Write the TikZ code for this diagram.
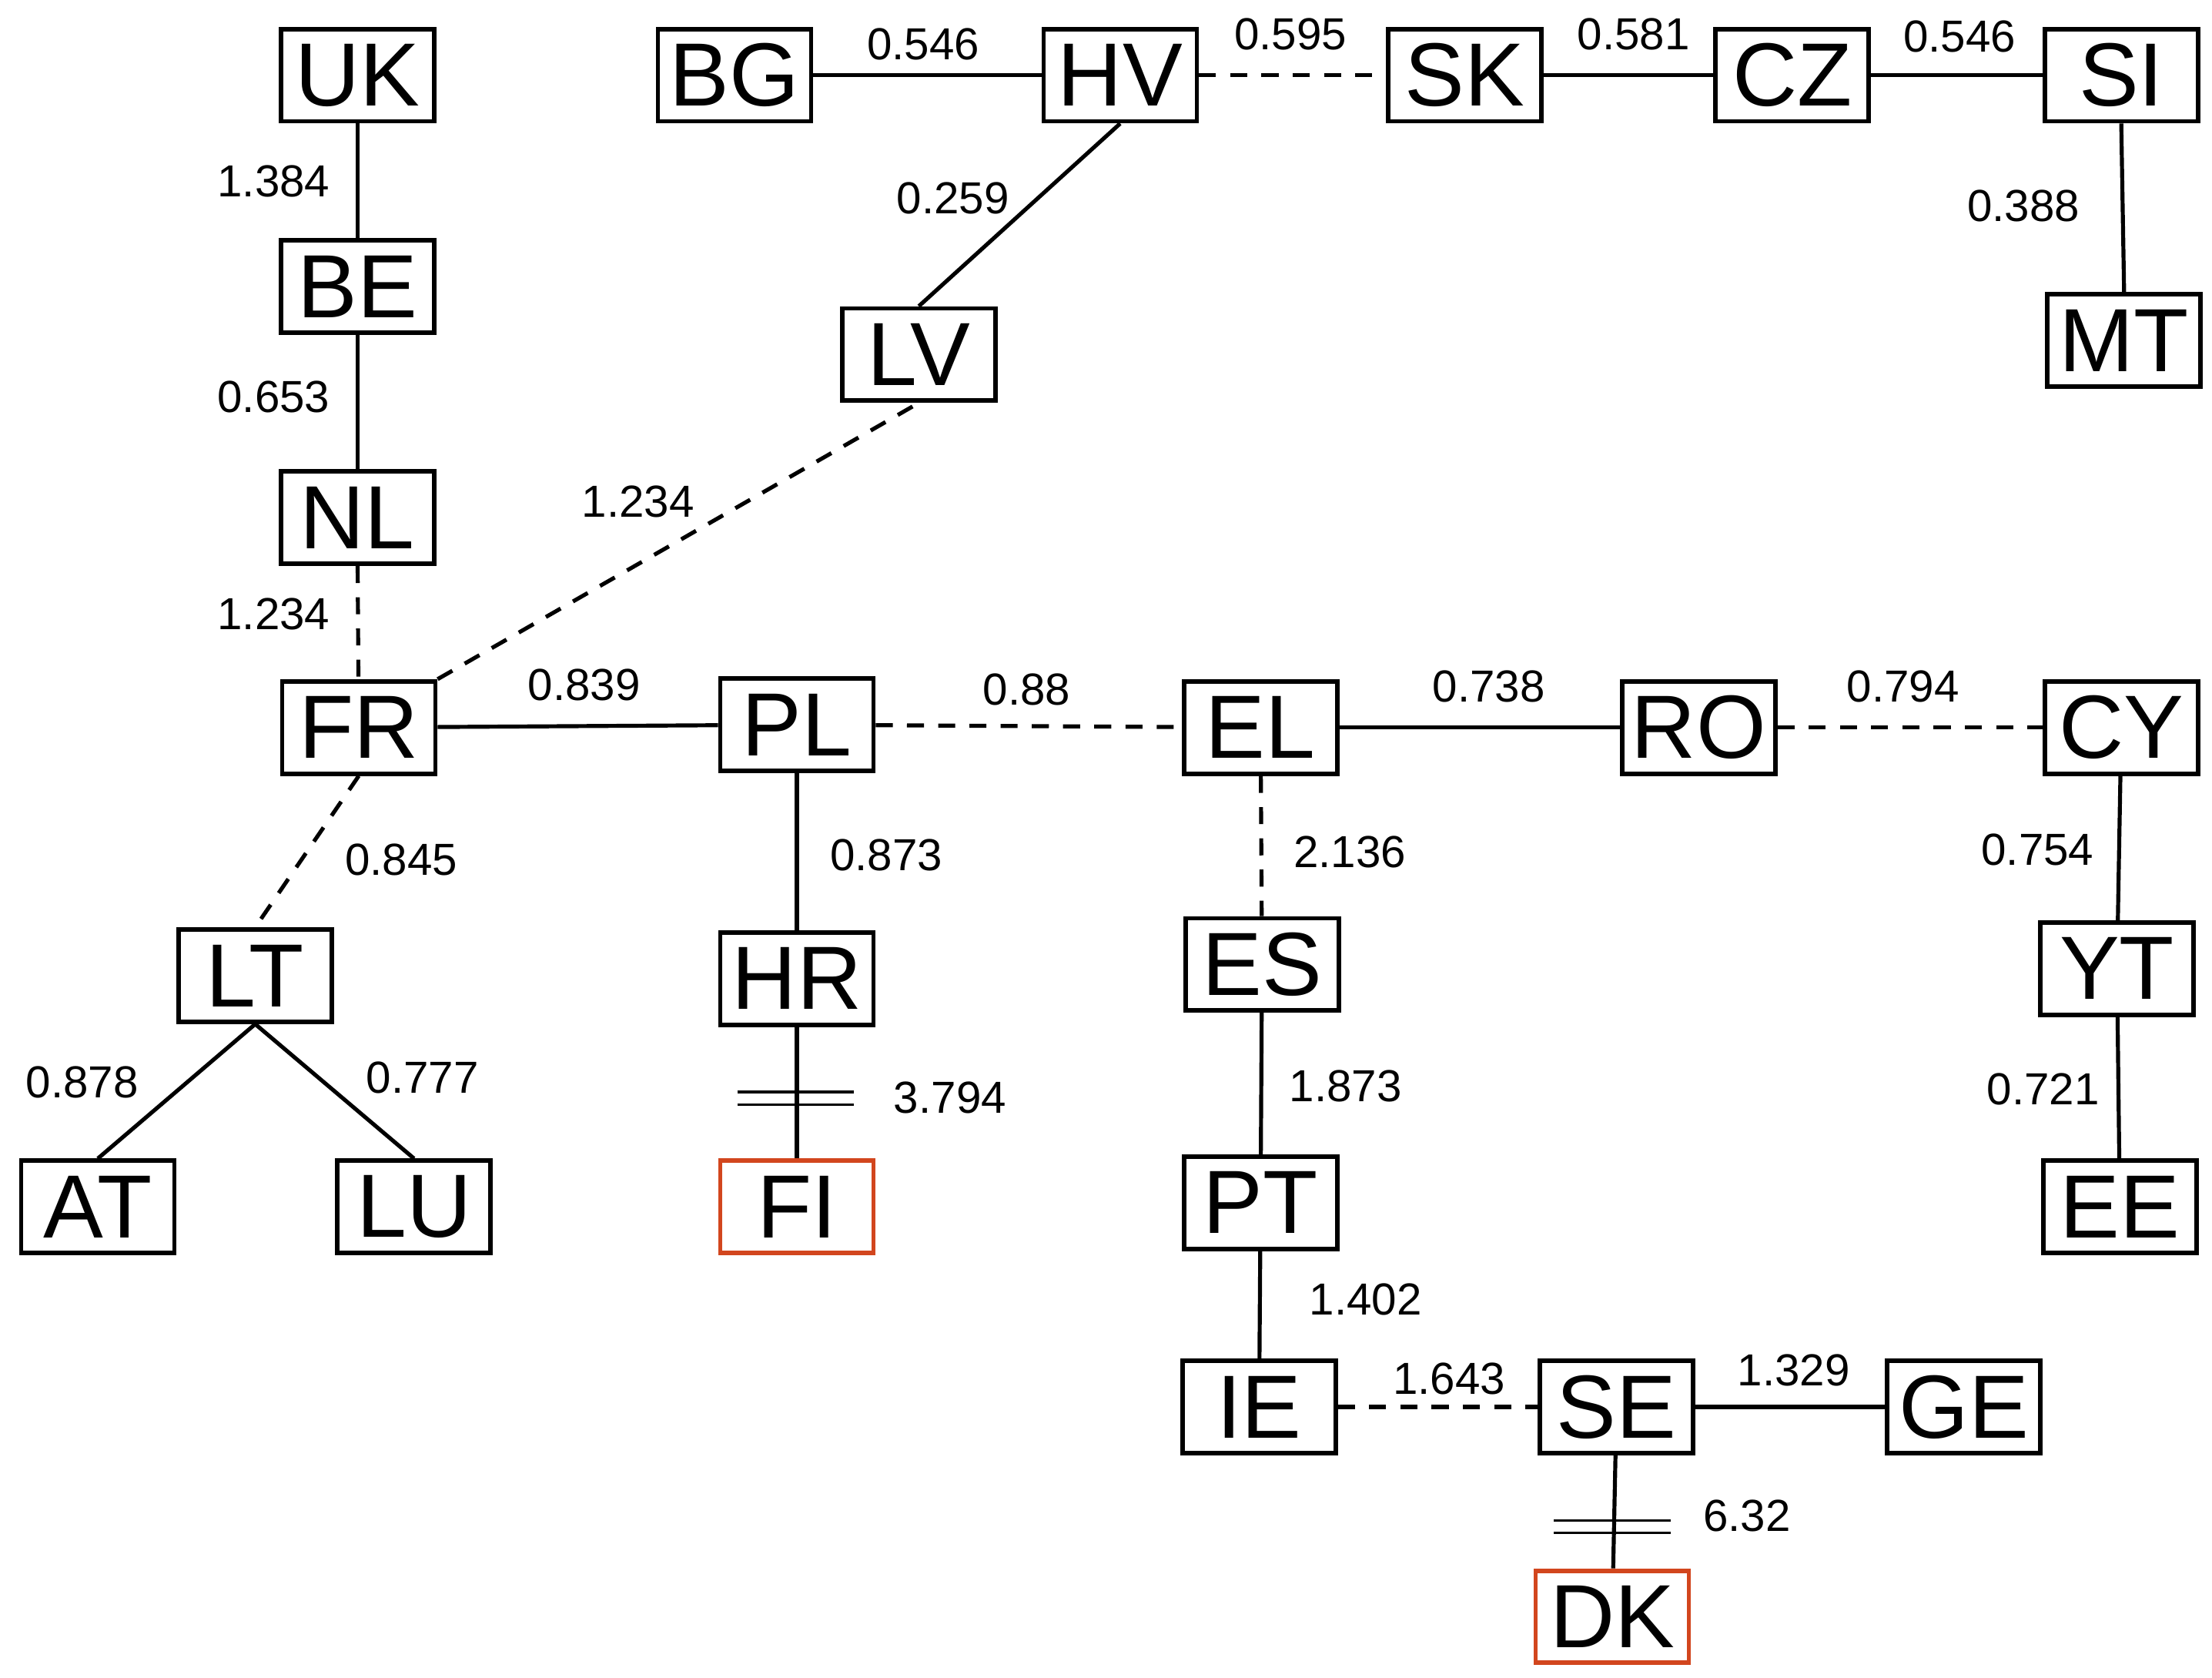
\documentclass[tikz,border=0pt]{standalone}
\usepackage{fontspec}
\setmainfont{Liberation Sans}
\begin{document}
\begin{tikzpicture}[x=0.01cm,y=-0.01cm,
  box/.style={draw,line width=0.9pt,minimum width=1.08cm,minimum height=0.65cm,inner sep=0pt,font=\fontsize{18}{18}\selectfont},
  red/.style={draw={rgb,255:red,210;green,70;blue,30}},
  e/.style={line width=0.8pt},
  d/.style={line width=0.8pt,dash pattern=on 0.12cm off 0.1cm},
  lab/.style={font=\fontsize{9}{9}\selectfont,inner sep=1pt}]
\useasboundingbox (0,0) rectangle (1560,1183);
\node[box] (UK) at (252,53) {UK};
\node[box] (BE) at (252,202) {BE};
\node[box] (NL) at (252,365) {NL};
\node[box] (FR) at (253,513) {FR};
\node[box] (LT) at (180,688) {LT};
\node[box] (AT) at (69,851) {AT};
\node[box] (LU) at (292,851) {LU};
\node[box] (BG) at (518,53) {BG};
\node[box] (HV) at (790,53) {HV};
\node[box] (SK) at (1033,53) {SK};
\node[box] (CZ) at (1264,53) {CZ};
\node[box] (SI) at (1496,53) {SI};
\node[box] (MT) at (1498,240) {MT};
\node[box] (LV) at (648,250) {LV};
\node[box] (PL) at (562,511) {PL};
\node[box] (HR) at (562,690) {HR};
\node[box,red] (FI) at (562,851) {FI};
\node[box] (EL) at (889,513) {EL};
\node[box] (ES) at (890,680) {ES};
\node[box] (PT) at (889,848) {PT};
\node[box] (IE) at (888,992) {IE};
\node[box] (SE) at (1140,992) {SE};
\node[box] (GE) at (1385,992) {GE};
\node[box,red] (DK) at (1137,1140) {DK};
\node[box] (RO) at (1198,513) {RO};
\node[box] (CY) at (1496,513) {CY};
\node[box] (YT) at (1493,683) {YT};
\node[box] (EE) at (1495,851) {EE};
% edges
\draw[e] (UK) -- (BE);
\draw[e] (BE) -- (NL);
\draw[d] (NL) -- (FR);
\draw[d] (FR.north east) -- (LV.south);
\draw[e] (FR) -- (PL);
\draw[d] (PL) -- (EL);
\draw[e] (EL) -- (RO);
\draw[d] (RO) -- (CY);
\draw[d] (FR.south) -- (LT.north);
\draw[e] (LT.south) -- (AT.north);
\draw[e] (LT.south) -- (LU.north);
\draw[e] (PL) -- (HR);
\draw[e] (HR) -- (FI);
\draw[d] (EL) -- (ES);
\draw[e] (ES) -- (PT);
\draw[e] (PT) -- (IE);
\draw[d] (IE) -- (SE);
\draw[e] (SE) -- (GE);
\draw[e] (SE) -- (DK);
\draw[e] (CY) -- (YT);
\draw[e] (YT) -- (EE);
\draw[e] (BG) -- (HV);
\draw[d] (HV) -- (SK);
\draw[e] (SK) -- (CZ);
\draw[e] (CZ) -- (SI);
\draw[e] (SI.south) -- (MT.north);
\draw[e] (HV.south) -- (LV.north);
% break marks
\draw[line width=0.5pt] (520,770) -- (602,770) (520,779) -- (602,779);
\draw[line width=0.5pt] (1096,1072) -- (1178,1072) (1096,1081) -- (1178,1081);
% labels
\node[lab] at (193,128) {1.384};
\node[lab] at (193,280) {0.653};
\node[lab] at (193,433) {1.234};
\node[lab] at (450,354) {1.234};
\node[lab] at (412,483) {0.839};
\node[lab] at (724,486) {0.88};
\node[lab] at (1050,484) {0.738};
\node[lab] at (1342,484) {0.794};
\node[lab] at (283,606) {0.845};
\node[lab] at (625,603) {0.873};
\node[lab] at (952,601) {2.136};
\node[lab] at (1437,599) {0.754};
\node[lab] at (58,763) {0.878};
\node[lab] at (298,760) {0.777};
\node[lab] at (670,774) {3.794};
\node[lab] at (949,766) {1.873};
\node[lab] at (1441,768) {0.721};
\node[lab] at (963,916) {1.402};
\node[lab] at (1022,972) {1.643};
\node[lab] at (1265,966) {1.329};
\node[lab] at (1232,1069) {6.32};
\node[lab] at (651,31) {0.546};
\node[lab] at (910,24) {0.595};
\node[lab] at (1152,24) {0.581};
\node[lab] at (1382,26) {0.546};
\node[lab] at (672,140) {0.259};
\node[lab] at (1427,145) {0.388};
\end{tikzpicture}
\end{document}
